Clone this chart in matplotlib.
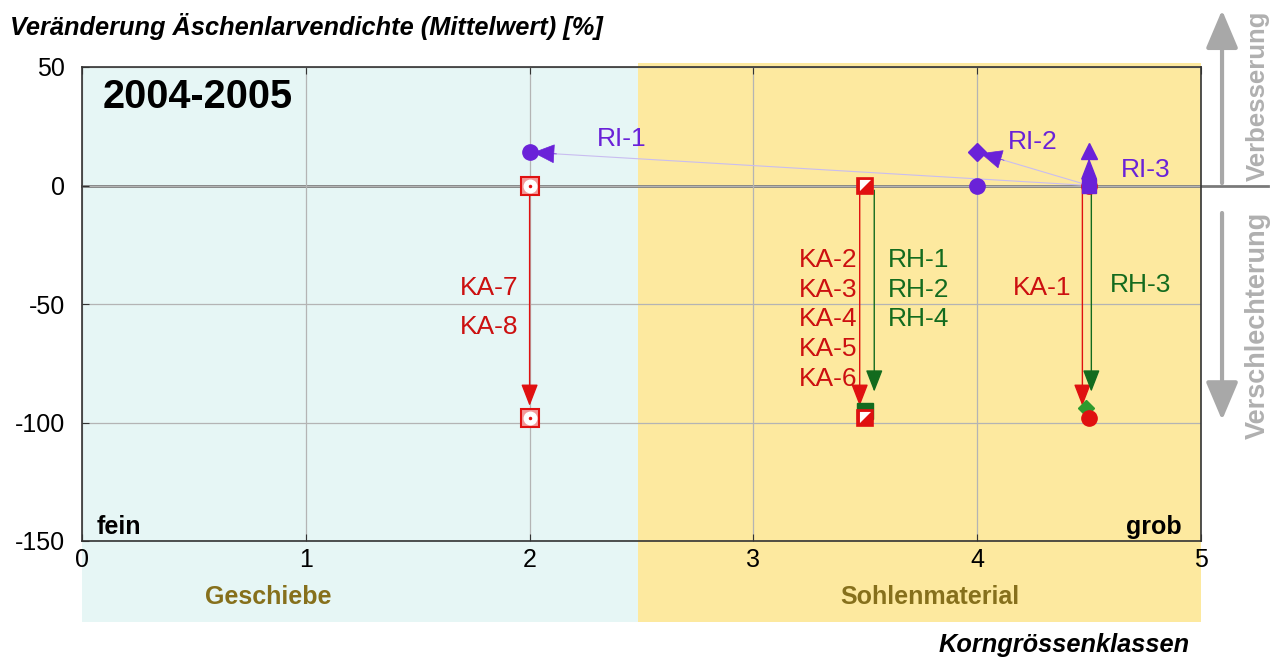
import matplotlib
matplotlib.use("Agg")
import matplotlib.pyplot as plt
from matplotlib.patches import Rectangle

plt.rcParams['font.family'] = ['Liberation Sans', 'DejaVu Sans']
plt.rcParams['axes.unicode_minus'] = False

# ---------------- data ----------------
x_ticks = [0, 1, 2, 3, 4, 5]
y_ticks = [50, 0, -50, -100, -150]

# red series (KA): x, start value, end value
ka_groups = ['KA-7\n\nKA-8', 'KA-2\nKA-3\nKA-4\nKA-5\nKA-6', 'KA-1']
ka_x = [2.0, 3.5, 4.5]
ka_start = [0, 0, 0]
ka_end = [-98, -98, -98]

# green series (RH)
rh_groups = ['RH-1\nRH-2\nRH-4', 'RH-3']
rh_x = [3.5, 4.5]
rh_start = [0, 0]
rh_end = [-95, -95]

# purple series (RI): from class -> to class, start -> end value
ri_labels = ['RI-1', 'RI-2', 'RI-3']
ri_x_from = [4.5, 4.5, 4.5]
ri_x_to = [2.0, 4.0, 4.5]
ri_start = [0, 0, 0]
ri_end = [14, 14, 14]

RED = '#e01010'
RED_T = '#cc1010'
GREEN = '#136b1e'
PURPLE = '#6a22d8'
PURPLE_L = '#c9bdf0'
OLIVE = '#86701c'
GRAY = '#a8a8a8'
CYAN_BG = '#e6f6f5'
YEL_BG = '#fde99f'
LFS = 19

fig = plt.figure(figsize=(12.79, 6.58), dpi=100)
ax = fig.add_axes([82/1279, 1-541/658, (1201-82)/1279, (541-67)/658])
ax.set_xlim(0, 5)
ax.set_ylim(-150, 50)
ax.patch.set_alpha(0)

# background zones
ax.add_patch(Rectangle((0, -184), 2.485, 234, facecolor=CYAN_BG, edgecolor='none',
                       zorder=0, clip_on=False))
ax.add_patch(Rectangle((2.485, -184), 2.515, 235.5, facecolor=YEL_BG, edgecolor='none',
                       zorder=0, clip_on=False))

ax.set_xticks(x_ticks)
ax.set_yticks(y_ticks)
ax.tick_params(direction='in', length=5, top=True, right=False, labelsize=18,
               color='#333333', pad=5)
ax.tick_params(axis='y', pad=12)
ax.grid(True, color='#b4b4b4', lw=0.9, zorder=0.5)
for s in ax.spines.values():
    s.set_color('#333333')
    s.set_linewidth(1.2)

# zero line extending past the axes
ax.plot([0, 5.3], [0, 0], color='#7a7a7a', lw=2, clip_on=False, zorder=1)

def arrow(x0, y0, x1, y1, color, lw=1.0, hl=0.9, hw=0.35, ms=14, z=3):
    ax.annotate('', xy=(x1, y1), xytext=(x0, y0), annotation_clip=False,
                arrowprops=dict(arrowstyle=f'-|>,head_length={hl},head_width={hw}',
                                color=color, lw=lw, mutation_scale=ms,
                                shrinkA=0, shrinkB=0), zorder=z)

# ---- red KA arrows
ka_arrow_dx = [0.0, -0.025, -0.03]
for x, s, e, dx in zip(ka_x, ka_start, ka_end, ka_arrow_dx):
    arrow(x + dx, s, x + dx, e + 5, RED, ms=15)

# ---- green RH arrows
rh_arrow_dx = [0.04, 0.01]
for x, s, e, dx in zip(rh_x, rh_start, rh_end, rh_arrow_dx):
    arrow(x + dx, s - 2, x + dx, e + 8, GREEN, ms=15)

# ---- markers
UL = [(-1, -1), (-1, 1), (1, 1), (-1, -1)]
# x = 2 : square with white circle
for y in (ka_start[0], ka_end[0]):
    ax.plot(ka_x[0], y, marker='s', ms=12.5, mfc='#f39a9a', mec=RED, mew=1.5, zorder=5)
    ax.plot(ka_x[0], y, marker='o', ms=9, mfc='white', mec='white', zorder=6)
    ax.plot(ka_x[0], y, marker='o', ms=1.5, mfc=RED, mec=RED, zorder=7)
# x = 3.5 : green behind, half-filled squares
ax.plot(rh_x[0], rh_end[0], marker='s', ms=12, mfc=GREEN, mec=GREEN, zorder=4)
for y in (ka_start[1], ka_end[1]):
    ax.plot(ka_x[1], y, marker='s', ms=12, mfc=RED, mec=RED, mew=1.2, zorder=5)
    ax.plot(ka_x[1] - 0.002, y + 0.3, marker=UL, ms=8, mfc='white', mec='white', mew=0, zorder=6)
# x = 4.5 end
ax.plot(rh_x[1] - 0.015, rh_end[1] + 1, marker='D', ms=8, mfc='#2e9a2e', mec='#2e9a2e', zorder=4)
ax.plot(ka_x[2], ka_end[2], marker='o', ms=11, mfc=RED, mec=RED, zorder=5)
# x = 4.5 start
ax.plot(ka_x[2], ka_start[2], marker='o', ms=11, mfc=RED, mec=RED, zorder=5)
ax.plot(ri_x_from[2], ri_start[2], marker='s', ms=10, mfc=PURPLE, mec=PURPLE, zorder=6)

# ---- purple RI
ax.plot(ri_x_to[0], ri_end[0], marker='o', ms=11, mfc=PURPLE, mec=PURPLE, zorder=5)
ax.plot(ri_x_to[1], ri_start[1], marker='o', ms=11, mfc=PURPLE, mec=PURPLE, zorder=5)
ax.plot(ri_x_to[1], ri_end[1], marker='D', ms=9, mfc=PURPLE, mec=PURPLE, zorder=5)
ax.plot(ri_x_to[2], ri_end[2] + 0.5, marker='^', ms=11, mfc=PURPLE, mec=PURPLE, zorder=5)
for i in range(2):
    x0, x1 = ri_x_from[i], ri_x_to[i]
    ax.plot([x0, x1], [ri_start[i], ri_end[i]], color=PURPLE_L, lw=0.8, zorder=2)
    d = abs(x0 - x1)
    xh0 = x1 + (x0 - x1) * 0.12 / d
    yh0 = ri_end[i] + (ri_start[i] - ri_end[i]) * 0.12 / d
    xh1 = x1 + (x0 - x1) * 0.015 / d
    yh1 = ri_end[i] + (ri_start[i] - ri_end[i]) * 0.015 / d
    arrow(xh0, yh0, xh1, yh1, PURPLE, lw=0.5, hl=0.9, hw=0.4, ms=16, z=6)
arrow(ri_x_from[2], ri_start[2], ri_x_from[2], ri_end[2] - 2.5, PURPLE, ms=15, z=6)

# ---- labels
ax.text(2.413, 19.5, ri_labels[0], color=PURPLE, fontsize=LFS, ha='center', va='center', zorder=8)
ax.text(4.25, 18.2, ri_labels[1], color=PURPLE, fontsize=LFS, ha='center', va='center', zorder=8)
ax.text(4.754, 6.5, ri_labels[2], color=PURPLE, fontsize=LFS, ha='center', va='center', zorder=8)

ax.text(1.82, -51.5, ka_groups[0], color=RED_T, fontsize=LFS, ha='center', va='center',
        linespacing=0.76, zorder=8)
ax.text(3.463, -56.5, ka_groups[1], color=RED_T, fontsize=LFS, ha='right', va='center',
        linespacing=1.30, zorder=8)
ax.text(4.29, -43.2, ka_groups[2], color=RED_T, fontsize=LFS, ha='center', va='center', zorder=8)
ax.text(3.60, -44.0, rh_groups[0], color=GREEN, fontsize=LFS, ha='left', va='center',
        linespacing=1.30, zorder=8)
ax.text(4.73, -41.8, rh_groups[1], color=GREEN, fontsize=LFS, ha='center', va='center', zorder=8)

ax.text(0.094, 37.5, '2004-2005', fontsize=28.5, fontweight='bold', ha='left', va='center', zorder=8)
ax.text(0.067, -144, 'fein', fontsize=18, fontweight='bold', ha='left', va='center', zorder=8)
ax.text(4.915, -144, 'grob', fontsize=18, fontweight='bold', ha='right', va='center', zorder=8)
ax.text(0.83, -173.6, 'Geschiebe', fontsize=18, fontweight='bold', color=OLIVE,
        ha='center', va='center', zorder=8, clip_on=False)
ax.text(3.79, -173.6, 'Sohlenmaterial', fontsize=18, fontweight='bold', color=OLIVE,
        ha='center', va='center', zorder=8, clip_on=False)

fig.text(10/1279, 1 - 26/658, 'Veränderung Äschenlarvendichte (Mittelwert) [%]',
         fontsize=18.3, fontweight='bold', style='italic', ha='left', va='center')
fig.text(1190/1279, 1 - 645/658, 'Korngrössenklassen',
         fontsize=18.3, fontweight='bold', style='italic', ha='right', va='center')

# right-side indicators
arrow(5.094, 1, 5.094, 74, GRAY, lw=3, hl=1.3, hw=0.55, ms=18)
arrow(5.094, -11.6, 5.094, -99, GRAY, lw=3, hl=1.3, hw=0.55, ms=18)
ax.text(5.255, 38, 'Verbesserung', rotation=90, color='#b0b0b0', fontsize=18.5,
        fontweight='bold', ha='center', va='center', clip_on=False)
ax.text(5.255, -59, 'Verschlechterung', rotation=90, color='#b0b0b0', fontsize=19.5,
        fontweight='bold', ha='center', va='center', clip_on=False)

fig.savefig('out.png', dpi=100)
